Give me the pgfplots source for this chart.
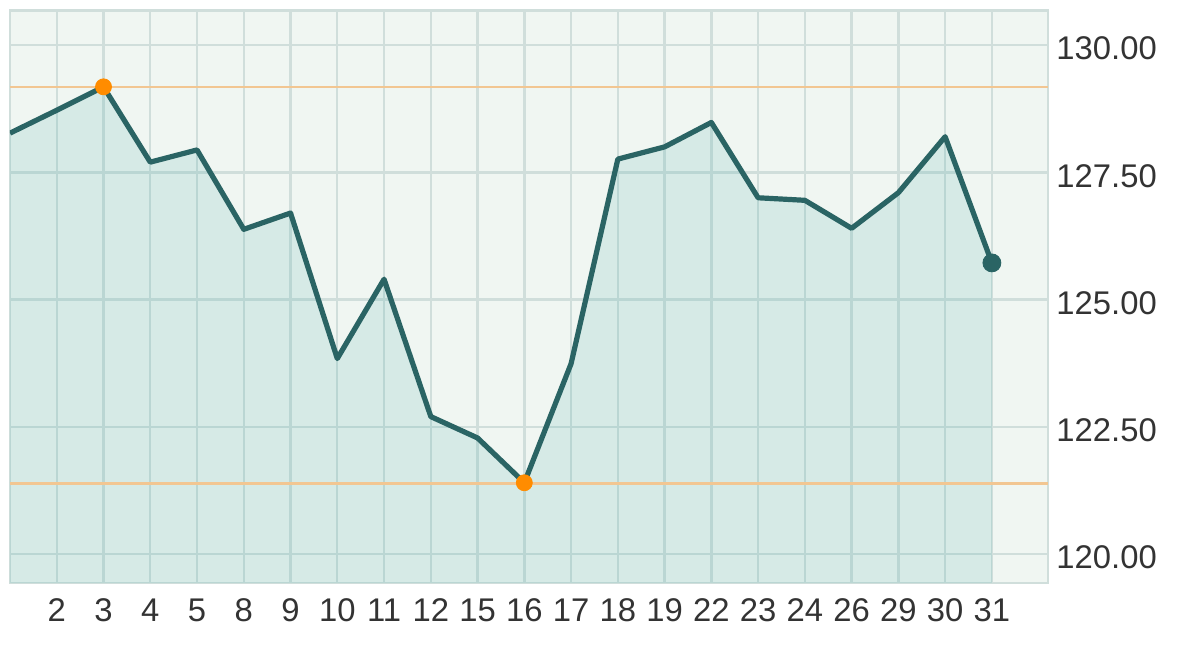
\documentclass[border=0pt]{standalone}
\usepackage{pgfplots}
\pgfplotsset{compat=1.18}
\usepackage{fontspec}
\setmainfont{Liberation Sans}
\usetikzlibrary{calc}
\definecolor{bg}{RGB}{240,246,242}
\definecolor{fillc}{RGB}{66,172,168}
\definecolor{linec}{RGB}{42,100,100}
\definecolor{gridc}{RGB}{208,222,219}
\definecolor{orangeline}{RGB}{242,198,146}
\definecolor{orangedot}{RGB}{255,140,0}
\definecolor{txt}{RGB}{51,51,51}
\pgfplotstableread{
x y
0 128.27
1 128.72
2 129.18
3 127.70
4 127.94
5 126.38
6 126.70
7 123.84
8 125.40
9 122.70
10 122.28
11 121.40
12 123.74
13 127.76
14 128.00
15 128.48
16 127.00
17 126.95
18 126.40
19 127.10
20 128.20
21 125.72
}\prices
\begin{document}
\begin{tikzpicture}
\begin{axis}[
  scale only axis, width=519pt, height=286.5pt,
  xmin=0, xmax=22.2, ymin=119.43, ymax=130.69,
  axis background/.style={fill=bg},
  axis line style={draw=gridc, line width=1.2pt},
  xtick={0,...,21},
  xticklabels={,2,3,4,5,8,9,10,11,12,15,16,17,18,19,22,23,24,26,29,30,31},
  ytick={120,122.5,125,127.5,130},
  yticklabel pos=right,
  major tick length=0pt,
  grid=major,
  grid style={draw=gridc, line width=1.2pt},
  tick label style={font=\fontsize{16.4}{18}\selectfont, text=txt},
  /pgf/number format/assume math mode=true,
  y tick label style={/pgf/number format/fixed, /pgf/number format/fixed zerofill, /pgf/number format/precision=2, xshift=0.7pt, yshift=-1.75pt},
  x tick label style={yshift=-4.5pt},
]
\addplot[draw=none, fill=fillc, fill opacity=0.15] table[x=x,y=y] {\prices} \closedcycle;
\addplot[orangeline, line width=1.3pt] coordinates {(0,129.18) (22.2,129.18)};
\addplot[orangeline, line width=1.3pt] coordinates {(0,121.38) (22.2,121.38)};
\addplot[only marks, mark=*, mark size=4pt, color=orangedot] coordinates {(2,129.18) (11,121.40)};
\addplot[linec, line width=2.6pt, line join=round] table[x=x,y=y] {\prices};
\addplot[only marks, mark=*, mark size=4.5pt, color=linec] coordinates {(21,125.72)};
\draw[gridc, line width=2.5pt] (rel axis cs:0,1) -- (rel axis cs:1,1);
\end{axis}
\path ($(current axis.south west)+(-5pt,-38pt)$) rectangle ($(current axis.north east)+(74pt,5pt)$);
\end{tikzpicture}
\end{document}
